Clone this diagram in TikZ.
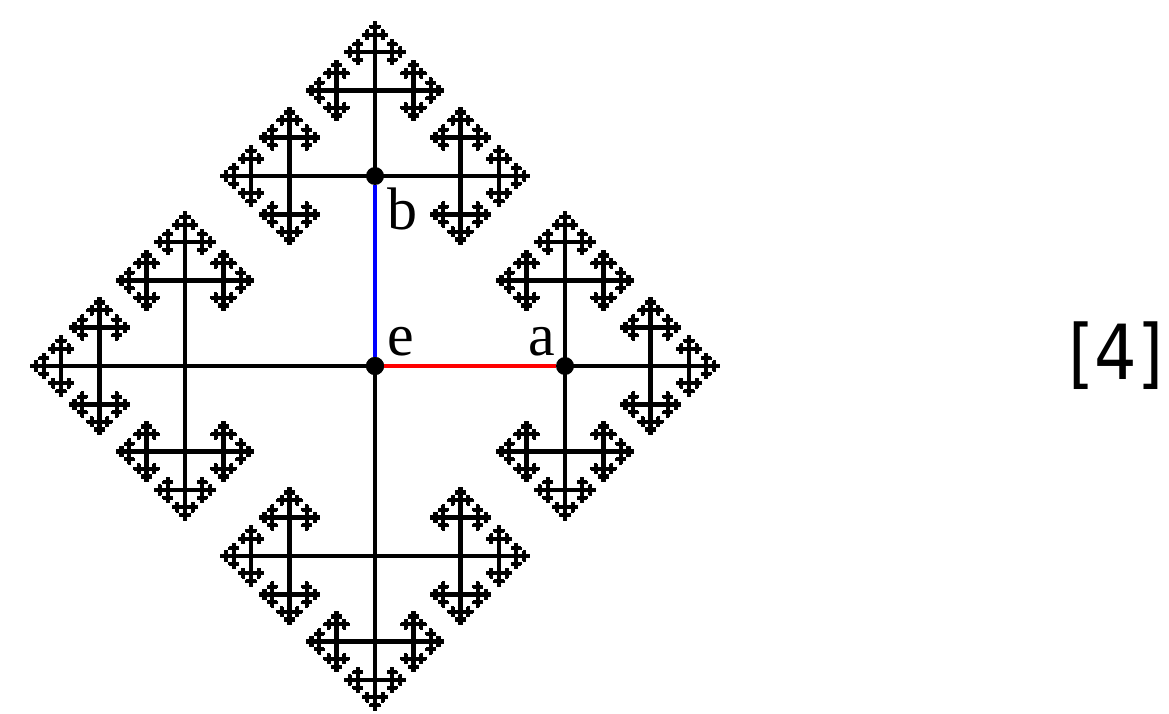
\documentclass[tikz,border=0pt]{standalone}
\usepackage{fontspec}
\setmainfont{Liberation Serif}
\newfontfamily\refont{DejaVu Sans}
\def\maxlev{7}
\tikzset{
  edge/.style={line width=4.2pt, black},
  dot/.style={circle, fill=black, minimum size=18pt, inner sep=0pt},
  lab/.style={font=\fontsize{60}{60}\selectfont, inner sep=0pt, anchor=base west},
}
\newcommand\cayley[4]{%
  \ifnum#4<\maxlev\relax
    \pgfmathsetmacro\cayL{190*0.45^#4}%
    \pgfmathtruncatemacro\opp{mod(#3+2,4)}%
    \foreach \d in {0,1,2,3}{%
      \ifnum\d=\opp\else
        \ifcase\d \def\dx{1}\def\dy{0}\or \def\dx{0}\def\dy{1}\or \def\dx{-1}\def\dy{0}\or \def\dx{0}\def\dy{-1}\fi
        \pgfmathsetmacro\nx{#1+\dx*\cayL}%
        \pgfmathsetmacro\ny{#2+\dy*\cayL}%
        \draw[edge] (#1,#2) -- (\nx,\ny);
        \edef\next{\noexpand\cayley{\nx}{\ny}{\d}{\the\numexpr#4+1\relax}}\next
      \fi}%
  \fi}
\begin{document}
\begin{tikzpicture}[x=1pt,y=1pt]
\useasboundingbox (0,0) rectangle (1169,713);
% vertices of the first level
\coordinate (l) at (185,347);
\coordinate (d) at (375,157);
% fractal branches
\cayley{565}{347}{0}{1}
\cayley{375}{537}{1}{1}
\cayley{185}{347}{2}{1}
\cayley{375}{157}{3}{1}
\node[dot] (e) at (375,347) {};
\node[dot] (a) at (565,347) {};
\node[dot] (b) at (375,537) {};
\draw[edge] (e.center) -- (l);
\draw[edge] (e.center) -- (d);
\draw[edge, red] (e) -- (a);
\draw[edge, blue] (e) -- (b);
\node[dot] at (e.center) {};
\node[lab] (lb) at (387,483) {b};
\node[lab] (le) at (387,358) {e};
\node[lab] (la) at (528,358) {a};
\node[font=\refont\fontsize{76}{76}\selectfont, inner sep=0pt, xscale=0.88] (ref) at (1116,357) {[4]};
\end{tikzpicture}
\end{document}
